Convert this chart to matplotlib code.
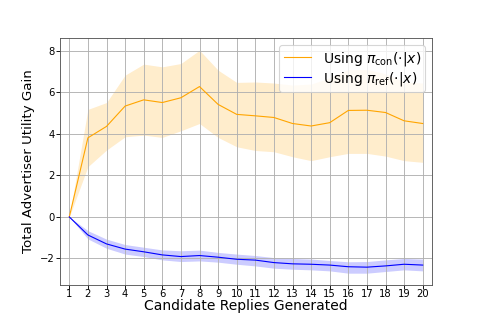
import numpy as np
import matplotlib
matplotlib.use("Agg")
import matplotlib.pyplot as plt

# candidate replies
n_replies = list(range(1, 21))

# pi_con: mean and band
con_mean = [0, 3.81, 4.36, 5.34, 5.64, 5.51, 5.74, 6.28, 5.42, 4.94,
            4.87, 4.79, 4.50, 4.38, 4.54, 5.13, 5.14, 5.03, 4.63, 4.50]
con_upper = [0, 5.18, 5.51, 6.83, 7.36, 7.23, 7.39, 8.03, 7.07, 6.48,
             6.50, 6.45, 6.35, 6.40, 6.70, 7.10, 7.10, 6.90, 6.50, 6.45]
con_lower = [0, 2.42, 3.22, 3.86, 3.94, 3.83, 4.15, 4.50, 3.83, 3.38,
             3.20, 3.14, 2.90, 2.71, 2.90, 3.06, 3.06, 2.93, 2.71, 2.63]

# pi_ref: mean and band
ref_mean = [0, -0.87, -1.30, -1.55, -1.68, -1.83, -1.91, -1.86, -1.94, -2.04,
            -2.08, -2.20, -2.26, -2.28, -2.32, -2.40, -2.42, -2.36, -2.28, -2.32]
ref_upper = [0, -0.66, -1.07, -1.33, -1.46, -1.59, -1.63, -1.60, -1.71, -1.79,
             -1.86, -1.96, -2.00, -2.03, -2.10, -2.16, -2.15, -2.07, -2.00, -2.03]
ref_lower = [0, -1.06, -1.51, -1.79, -1.91, -2.07, -2.15, -2.12, -2.18, -2.28,
             -2.36, -2.47, -2.52, -2.55, -2.60, -2.71, -2.71, -2.63, -2.55, -2.60]

fig, ax = plt.subplots(figsize=(6, 4), dpi=80)

ax.plot(n_replies, con_mean, color='orange', lw=1, label=r'Using $\pi_{\rm con}(\cdot|x)$')
ax.fill_between(n_replies, con_lower, con_upper, color='orange', alpha=0.2, lw=0)
ax.plot(n_replies, ref_mean, color='blue', lw=1, label=r'Using $\pi_{\rm ref}(\cdot|x)$')
ax.fill_between(n_replies, ref_lower, ref_upper, color='blue', alpha=0.2, lw=0)

ax.set_xticks(n_replies)
ax.set_xlim(0.5, 20.5)
ax.set_ylim(-3.27, 8.6)
ax.tick_params(labelsize=9)
ax.tick_params(axis='x', pad=0.5)
ax.tick_params(axis='y', pad=1.5)
ax.grid(True)
for s in ax.spines.values():
    s.set_color('#555555')
ax.set_xlabel('Candidate Replies Generated', fontsize=12.5, labelpad=0)
ax.set_ylabel('Total Advertiser Utility Gain', fontsize=12)
ax.legend(loc='upper right', fontsize=12.5, labelspacing=0.15, borderpad=0.3)

plt.savefig('out.png')
